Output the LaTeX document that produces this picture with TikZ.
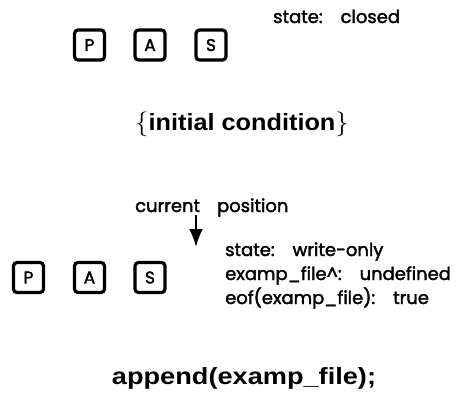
\documentclass[tikz,border=0pt]{standalone}
\usepackage{fontspec}
\setmainfont{Poppins}[FakeBold=2]
\newfontfamily\boldhead{Liberation Sans}
\usetikzlibrary{arrows.meta}
\tikzset{
  letterbox/.style={draw, line width=3.2bp, rounded corners=3.5bp, minimum size=30bp, inner sep=0pt, font=\fontsize{17}{19}\selectfont},
  smalltext/.style={anchor=base west, inner sep=0pt, font=\fontsize{18}{20}\selectfont},
  headtext/.style={inner sep=0pt, font=\boldhead\bfseries\fontsize{23.5}{26}\selectfont},
  pointer/.style={line width=2.2bp, -{Latex[length=18bp,width=14bp]}}
}
\begin{document}
\begin{tikzpicture}[x=1bp, y=-1bp]
\useasboundingbox (0,0) rectangle (468,394);
% initial condition
\node[letterbox] (p1) at (89.5,45) {P};
\node[letterbox] (a1) at (150,45) {A};
\node[letterbox] (s1) at (211,45) {S};
\node[smalltext] (st1) at (273,23) {state:\hspace{1em}closed};
\node[headtext] (h1) at (242,124) {\scalebox{1.08}[1]{$\{$\textbf{initial condition}$\}$}};
% after append
\node[smalltext] (cp) at (135,212) {current\hspace{0.95em}position};
\coordinate (t0) at (196,215);
\coordinate (t1) at (196,247);
\draw[pointer] (t0) -- (t1);
\node[letterbox] (p2) at (28.5,277.5) {P};
\node[letterbox] (a2) at (89.5,277.5) {A};
\node[letterbox] (s2) at (150,277.5) {S};
\node[smalltext] (st2) at (225,256) {state:\hspace{1em}write-only};
\node[smalltext] (ef) at (225,280) {examp\_file\^{}:\hspace{1em}undefined};
\node[smalltext] (eo) at (225,304) {eof(examp\_file):\hspace{1em}true};
\node[headtext] (h2) at (244,378) {\scalebox{1.16}[1]{append(examp\_file);}};
\end{tikzpicture}
\end{document}
